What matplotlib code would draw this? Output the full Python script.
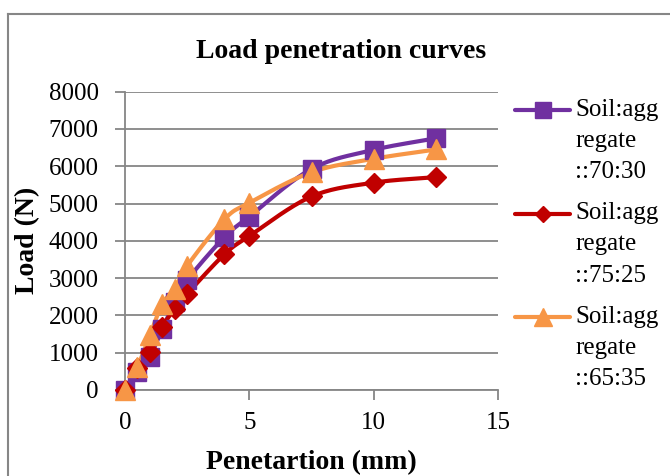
import numpy as np
import matplotlib
matplotlib.use('Agg')
import matplotlib.pyplot as plt
from matplotlib.lines import Line2D

plt.rcParams['font.family'] = ['Liberation Serif', 'DejaVu Serif']

# penetration (mm)
penetration = [0, 0.5, 1, 1.5, 2, 2.5, 4, 5, 7.5, 10, 12.5]
# load (N)
load_70_30 = [0, 490, 890, 1640, 2350, 2950, 4100, 4650, 5930, 6440, 6750]
load_75_25 = [0, 580, 1020, 1690, 2180, 2580, 3640, 4130, 5190, 5560, 5710]
load_65_35 = [0, 620, 1470, 2310, 2710, 3330, 4580, 5020, 5840, 6200, 6450]

labels = ['Soil:agg\nregate\n::70:30', 'Soil:agg\nregate\n::75:25', 'Soil:agg\nregate\n::65:35']
colors = ['#7030A0', '#C00000', '#F79646']
markers = ['s', 'D', '^']
msizes = [13, 10, 15]

W, H = 670, 476


def smooth(x, y, n=20):
    # catmull-rom path through the points, like excel "smoothed line"
    x = np.asarray(x, float); y = np.asarray(y, float)
    px = np.concatenate([[2 * x[0] - x[1]], x, [2 * x[-1] - x[-2]]])
    py = np.concatenate([[2 * y[0] - y[1]], y, [2 * y[-1] - y[-2]]])
    xs, ys = [], []
    t = np.linspace(0, 1, n)
    for i in range(1, len(px) - 2):
        for p, out in ((px, xs), (py, ys)):
            p0, p1, p2, p3 = p[i - 1], p[i], p[i + 1], p[i + 2]
            out.extend(0.5 * ((2 * p1) + (-p0 + p2) * t + (2 * p0 - 5 * p1 + 4 * p2 - p3) * t ** 2
                              + (-p0 + 3 * p1 - 3 * p2 + p3) * t ** 3))
    return xs, ys


fig = plt.figure(figsize=(6.7, 4.76), dpi=100)
# chart area border (left and top visible in the reference)
fig.add_artist(Line2D([8 / W, 8 / W], [0, 1 - 14 / H], color='#868686', linewidth=1.5))
fig.add_artist(Line2D([8 / W, 1], [1 - 14 / H, 1 - 14 / H], color='#868686', linewidth=1.5))

ax = fig.add_axes([125 / W, 86 / H, 373 / W, 298.3 / H])

for ys, c, m, ms in zip([load_70_30, load_75_25, load_65_35], colors, markers, msizes):
    sx, sy = smooth(penetration, ys)
    ax.plot(sx, sy, color=c, linewidth=3, zorder=3, clip_on=False)
    ax.plot(penetration, ys, linestyle='none', marker=m, markersize=ms, color=c, zorder=4, clip_on=False)

ax.set_xlim(0, 15)
ax.set_ylim(0, 8000)
ax.set_xticks([0, 5, 10, 15])
ax.set_yticks(range(0, 8001, 1000))
ax.grid(axis='y', color='#868686', linewidth=1.3, zorder=0)
ax.set_axisbelow(True)
for s in ['top', 'right']:
    ax.spines[s].set_visible(False)
for s in ['left', 'bottom']:
    ax.spines[s].set_color('#868686')
    ax.spines[s].set_linewidth(1.3)
ax.tick_params(axis='both', colors='#868686', labelcolor='black', labelsize=18, width=1.3, length=7)
ax.tick_params(axis='x', pad=9)
ax.tick_params(axis='y', pad=12)

fig.text(341 / W, 1 - 52 / H, 'Load penetration curves', fontsize=20, fontweight='bold',
         ha='center', va='center')
fig.text(311 / W, 1 - 463 / H, 'Penetartion (mm)', fontsize=20, fontweight='bold',
         ha='center', va='center')
fig.text(28 / W, 1 - 240 / H, 'Load (N)', fontsize=20, fontweight='bold',
         ha='center', va='center', rotation=90)

# legend: handle aligned with the first line of each wrapped label
for i, (lab, c, m, ms) in enumerate(zip(labels, colors, markers, msizes)):
    y0 = 110 + 103.5 * i
    fig.add_artist(Line2D([515 / W, 570 / W], [1 - y0 / H] * 2, color=c, linewidth=3,
                          solid_capstyle='round'))
    fig.add_artist(Line2D([543 / W], [1 - y0 / H], color=c, marker=m, markersize=ms - 2,
                          linestyle='none'))
    for j, line in enumerate(lab.split('\n')):
        fig.text(575 / W, 1 - (y0 + 31 * j) / H, line, fontsize=18, ha='left', va='center')

plt.savefig('out.png', dpi=100)
